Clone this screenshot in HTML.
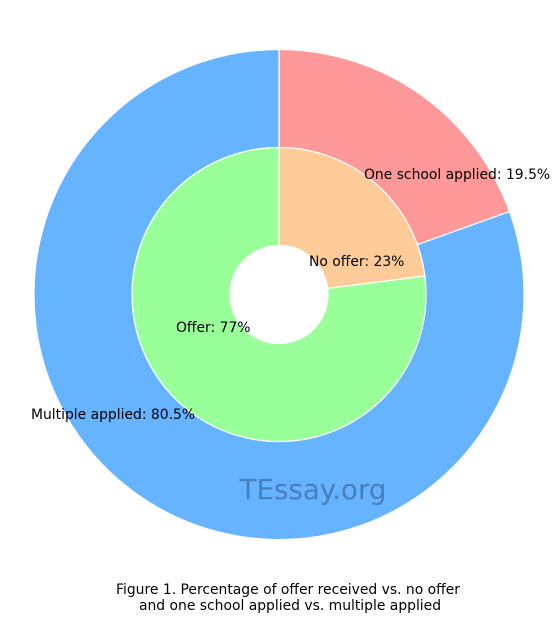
<!DOCTYPE html>
<html><head><meta charset="utf-8"><style>
body{margin:0;background:#fff;width:559px;height:623px;overflow:hidden;font-family:"DejaVu Sans","Liberation Sans",sans-serif}
svg{display:block}
text{font-family:"DejaVu Sans","Liberation Sans",sans-serif}
</style></head><body>
<svg id="chart" width="559" height="623" viewBox="0 0 559 623" xmlns="http://www.w3.org/2000/svg">
<g id="outer"></g>
<g id="inner"></g>
<g id="labels"></g>
<text x="313" y="499" text-anchor="middle" font-size="27.7" fill="#3f75b0" fill-opacity="0.85">TEssay.org</text>
<text x="288" y="594" text-anchor="middle" font-size="13.9">Figure 1. Percentage of offer received vs. no offer</text>
<text x="290" y="610" text-anchor="middle" font-size="13.9">and one school applied vs. multiple applied</text>
</svg>
<script>
const outerCategories = ["One school applied", "Multiple applied"];
const outerValues = [19.5, 80.5];
const innerCategories = ["No offer", "Offer"];
const innerValues = [23, 77];
const outerColors = ["#ff9999", "#66b3ff"];
const innerColors = ["#ffcc99", "#99ff99"];

const cx = 279, cy = 294.5;
const NS = "http://www.w3.org/2000/svg";
function pt(r, frac){ const a = Math.PI/2 - frac*2*Math.PI; return [cx + r*Math.cos(a), cy - r*Math.sin(a)]; }
function wedge(r0, r1, f0, f1){
  const large = (f1-f0) > 0.5 ? 1 : 0;
  const [x0,y0]=pt(r1,f0),[x1,y1]=pt(r1,f1),[x2,y2]=pt(r0,f1),[x3,y3]=pt(r0,f0);
  return `M${x0},${y0}A${r1},${r1} 0 ${large} 1 ${x1},${y1}L${x2},${y2}A${r0},${r0} 0 ${large} 0 ${x3},${y3}Z`;
}
function drawRing(gid, values, colors, names, r0, r1, prefix){
  const g = document.getElementById(gid);
  const total = values.reduce((a,b)=>a+b,0);
  let acc = 0;
  values.forEach((v,i)=>{
    const f0 = acc/total, f1 = (acc+v)/total; acc += v;
    const p = document.createElementNS(NS,"path");
    p.setAttribute("d", wedge(r0,r1,f0,f1));
    p.setAttribute("fill", colors[i]);
    p.setAttribute("stroke", "#fff");
    p.setAttribute("stroke-width", "1.2");
    
    
    g.appendChild(p);
  });
}
drawRing("outer", outerValues, outerColors, outerCategories, 147, 245, "outer-slice");
drawRing("inner", innerValues, innerColors, innerCategories, 49, 147, "inner-slice");

const labelG = document.getElementById("labels");
function addLabel(text, x, y, name){
  const t = document.createElementNS(NS,"text");
  t.setAttribute("x", x); t.setAttribute("y", y);
  t.setAttribute("font-size", "13.9");
  t.textContent = text;
  
  
  labelG.appendChild(t);
}
addLabel(outerCategories[0] + ": " + outerValues[0] + "%", 364, 179, "label-one-school");
addLabel(outerCategories[1] + ": " + outerValues[1] + "%", 31, 419, "label-multiple");
addLabel(innerCategories[0] + ": " + innerValues[0] + "%", 309, 266, "label-no-offer");
addLabel(innerCategories[1] + ": " + innerValues[1] + "%", 176, 332, "label-offer");
</script>
</body></html>
